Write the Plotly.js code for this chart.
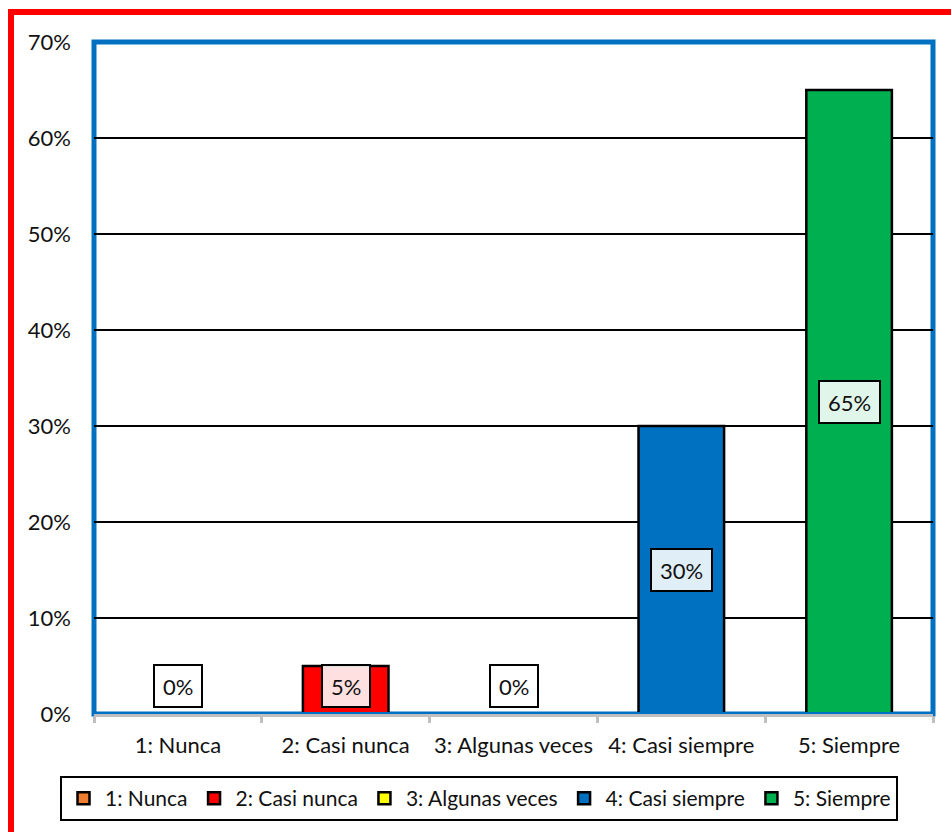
<!DOCTYPE html>
<html>
<head>
<meta charset="utf-8">
<script src="https://cdn.plot.ly/plotly-3.0.1.min.js"></script>
<style>
  html, body { margin: 0; padding: 0; background: #ffffff; overflow: hidden; }
  #chart { width: 951px; height: 832px; }
</style>
</head>
<body>
<div id="chart"></div>
<script>
// Response categories and their share of answers
const categories = ['1: Nunca', '2: Casi nunca', '3: Algunas veces', '4: Casi siempre', '5: Siempre'];
const shares = [0.00, 0.05, 0.00, 0.30, 0.65];
const barColors = ['#ED7D31', '#FF0000', '#FFFF00', '#0070C0', '#00B050'];
const yTickValues = [0, 0.1, 0.2, 0.3, 0.4, 0.5, 0.6, 0.7];

const FONT = 'Lato, "Open Sans", sans-serif';
const FONT_SIZE = 22;
const LEGEND_FONT_SIZE = 21;
const TEXT_COLOR = '#111111';

// Plot area in pixels
const M = { l: 94, r: 18, t: 42, b: 118 };
const W = 951, H = 832;
const plotW = W - M.l - M.r;
const plotH = H - M.t - M.b;
const px2paperX = px => (px - M.l) / plotW;
const px2paperY = py => (H - M.b - py) / plotH;

// One trace per category so every answer gets its own legend entry
const traces = categories.map((cat, i) => ({
  type: 'bar',
  name: cat,
  x: [cat],
  y: [shares[i]],
  marker: {
    color: barColors[i],
    line: { color: '#000000', width: 2.5 }
  },
  hoverinfo: 'x+y'
}));

// Value labels in framed boxes, centred in each bar; short bars keep the box above the axis
const minCentre = 0.028;
const annotations = categories.map((cat, i) => {
  const v = shares[i];
  const centre = v / 2;
  const lowBar = centre < minCentre;
  return {
    x: cat,
    y: lowBar ? 0 : centre,
    xref: 'x',
    yref: 'y',
    yanchor: lowBar ? 'bottom' : 'middle',
    yshift: lowBar ? 6 : 0,
    text: Math.round(v * 100) + '%',
    showarrow: false,
    font: { family: FONT, size: FONT_SIZE, color: TEXT_COLOR },
    height: 24,
    bgcolor: 'rgba(255,255,255,0.88)',
    bordercolor: '#000000',
    borderwidth: 2,
    borderpad: 8
  };
});

const shapes = [
  // blue frame of the plot area
  {
    type: 'rect', xref: 'paper', yref: 'paper',
    x0: 0, x1: 1, y0: 0, y1: 1,
    line: { color: '#0070C0', width: 5 },
    fillcolor: 'rgba(0,0,0,0)',
    layer: 'between'
  },
  // thin blue base line of the frame, running over the foot of the bars
  {
    type: 'line', xref: 'paper', yref: 'paper',
    x0: 0, x1: 1, y0: px2paperY(713), y1: px2paperY(713),
    line: { color: '#0070C0', width: 2 },
    layer: 'above'
  },
  // red outer frame (top and left edges fall inside the page)
  {
    type: 'rect', xref: 'paper', yref: 'paper',
    x0: px2paperX(11), x1: px2paperX(W + 40),
    y0: px2paperY(H + 40), y1: px2paperY(12),
    line: { color: '#FF0000', width: 6 },
    fillcolor: 'rgba(0,0,0,0)',
    layer: 'above'
  }
];

const layout = {
  width: W,
  height: H,
  margin: M,
  paper_bgcolor: '#ffffff',
  plot_bgcolor: '#ffffff',
  barmode: 'overlay',
  bargap: 0.49,
  showlegend: true,
  font: { family: FONT, size: FONT_SIZE, color: TEXT_COLOR },
  xaxis: {
    type: 'category',
    categoryorder: 'array',
    categoryarray: categories,
    showline: true,
    linecolor: '#BFBFBF',
    linewidth: 3,
    ticks: 'outside',
    tickson: 'boundaries',
    ticklen: 6,
    tickwidth: 3,
    tickcolor: '#BFBFBF',
    tickangle: 0,
    ticklabelstandoff: 10,
    showgrid: false,
    zeroline: false,
    tickfont: { family: FONT, size: FONT_SIZE, color: TEXT_COLOR },
    fixedrange: true
  },
  yaxis: {
    range: [0, 0.7],
    tickvals: yTickValues,
    tickformat: '.0%',
    showgrid: true,
    gridcolor: '#000000',
    gridwidth: 1.5,
    zeroline: false,
    showline: false,
    ticks: '',
    ticklabelstandoff: 22,
    tickfont: { family: FONT, size: FONT_SIZE, color: TEXT_COLOR },
    fixedrange: true
  },
  legend: {
    orientation: 'h',
    xref: 'container',
    yref: 'container',
    x: 60 / W,
    xanchor: 'left',
    y: 1 - 776 / H,
    yanchor: 'top',
    itemwidth: 33,
    bordercolor: '#000000',
    borderwidth: 2,
    bgcolor: '#ffffff',
    font: { family: FONT, size: LEGEND_FONT_SIZE, color: TEXT_COLOR },
    traceorder: 'normal'
  },
  annotations: annotations,
  shapes: shapes
};

Plotly.newPlot('chart', traces, layout, { displayModeBar: false, responsive: false });
</script>
</body>
</html>
